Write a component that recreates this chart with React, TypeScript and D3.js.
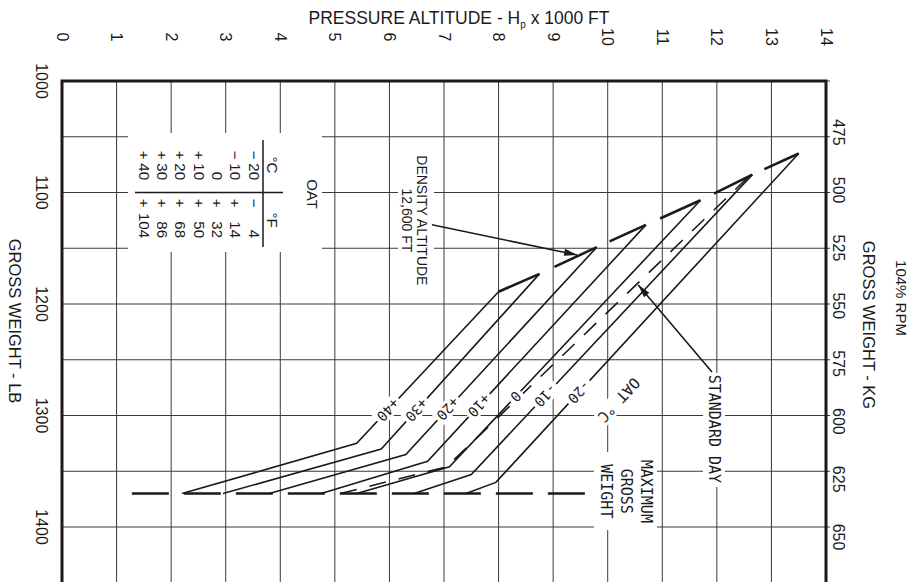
import * as d3 from "d3";

const W = 914;
const H = 582;

// axis ticks
const altTicks = [0, 1, 2, 3, 4, 5, 6, 7, 8, 9, 10, 11, 12, 13, 14];
const lbTicks = [1000, 1100, 1200, 1300, 1400];
const lbGrid = [1000, 1050, 1100, 1150, 1200, 1250, 1300, 1350, 1400, 1450];
const kgTicks = [475, 500, 525, 550, 575, 600, 625, 650];

// OAT lines: leave max gross weight, knee, then up to the 12,600 ft density altitude line
const maxGross = 1370;
const mgwAlt = [1.28, 9.75];
const oatNames = ["+40", "+30", "+20", "+10", "0", "-10", "-20"];
const startAlt = [2.2, 2.95, 3.8, 4.75, 5.4, 6.45, 7.4];
const kneeAlt = [5.4, 5.85, 6.3, 6.7, 7.1, 7.5, 7.95];
const kneeWt = [1325, 1330, 1335, 1341, 1346, 1353, 1360];
const topAlt = [8.0, 8.75, 9.8, 10.7, 11.7, 12.65, 13.5];
const topWt = [1189, 1173, 1149, 1129, 1107, 1084, 1065];
const labelWt = [1295, 1295, 1294, 1291, 1283, 1282, 1279];

// standard day (dashed)
const stdAlt = [5.1, 7.05, 12.6];
const stdWt = [1370, 1346, 1085];

// OAT conversion table
const tableC = [["−", "20"], ["−", "10"], ["", "0"], ["+", "10"], ["+", "20"], ["+", "30"], ["+", "40"]];
const tableF = [["−", "4"], ["+", "14"], ["+", "32"], ["+", "50"], ["+", "68"], ["+", "86"], ["+", "104"]];

const sans = "'Liberation Sans', Arial, sans-serif";
const mono = "'DejaVu Sans Mono', monospace";
const ink = "#1a1a1a";

function arrowHead(x1: number, y1: number, x2: number, y2: number, len = 13, half = 3.5) {
  const a = Math.atan2(y2 - y1, x2 - x1);
  const bx = x2 - len * Math.cos(a), by = y2 - len * Math.sin(a);
  const px = -Math.sin(a) * half, py = Math.cos(a) * half;
  return `${x2},${y2} ${bx + px},${by + py} ${bx - px},${by - py}`;
}

export default function App() {
  const x = d3.scaleLinear().domain([0, 14]).range([62, 826]);
  const y = d3.scaleLinear().domain([1000, 1400]).range([81, 527]);
  const kgToLb = d3.scaleLinear().domain([475, 650]).range([1046, 1409]);
  const x0 = x(0), x1 = x(14), y0 = y(1000);

  const line = d3.line<[number, number]>().x(d => x(d[0])).y(d => y(d[1]));

  const oatLines = oatNames.map((name, i) => {
    const pts: [number, number][] = [[startAlt[i], maxGross], [kneeAlt[i], kneeWt[i]], [topAlt[i], topWt[i]]];
    const t = (kneeWt[i] - labelWt[i]) / (kneeWt[i] - topWt[i]);
    const la = kneeAlt[i] + t * (topAlt[i] - kneeAlt[i]);
    const ang = (Math.atan2(y(topWt[i]) - y(kneeWt[i]), x(topAlt[i]) - x(kneeAlt[i])) * 180) / Math.PI + 180;
    return { name, d: line(pts), lx: x(la), ly: y(labelWt[i]), ang };
  });

  // density altitude dashes, each ending on an OAT line
  const daDashes = topAlt.slice(1).map((a, i) => {
    const f = i === 0 ? 0 : 0.26;
    const pa = topAlt[i] + f * (a - topAlt[i]);
    const pw = topWt[i] + f * (topWt[i + 1] - topWt[i]);
    return { x1: x(pa), y1: y(pw), x2: x(a), y2: y(topWt[i + 1]) };
  });

  const stdPts: [number, number][] = stdAlt.map((a, i) => [a, stdWt[i]]);
  const labelAng = oatLines[6].ang;

  // annotation anchors (data coords)
  const da = { tail: [6.78, 1129], tip: [9.44, 1156] };
  const sd = { tail: [11.91, 1261], tip: [10.56, 1183] };

  const tableRowX = (i: number) => x(3.52) - i * 18.3;

  return (
    <svg width={W} height={H} style={{ position: "absolute", left: 0, top: 0, background: "#fff" }}>
      <rect width={W} height={H} fill="#fff" />
      {/* grid */}
      <g stroke="#3a3a3a" strokeWidth={1}>
        {altTicks.map(t => <line key={"v" + t} x1={x(t)} x2={x(t)} y1={y0} y2={H} />)}
        {lbGrid.map(t => <line key={"h" + t} x1={x0} x2={x1 + 4} y1={y(t)} y2={y(t)} />)}
      </g>
      {/* frame */}
      <path d={`M${x0},${H + 5}V${y0}H${x1}V${H + 5}`} fill="none" stroke={ink} strokeWidth={3} />

      {/* top axis */}
      <text x={459} y={24} textAnchor="middle" fontFamily={sans} fontSize={17.5} fill={ink}>
        PRESSURE ALTITUDE - H<tspan fontSize={10} dy={4}>p</tspan><tspan dy={-4}> x 1000 FT</tspan>
      </text>
      {altTicks.map(t => (
        <text key={"at" + t} transform={`translate(${x(t)},37) rotate(90)`} textAnchor="middle" dominantBaseline="central"
          fontFamily={sans} fontSize={16} fill={ink}>{t}</text>
      ))}
      {/* left axis */}
      {lbTicks.map(t => (
        <text key={"lb" + t} transform={`translate(41,${y(t)}) rotate(90)`} textAnchor="middle" dominantBaseline="central"
          fontFamily={sans} fontSize={16} fill={ink}>{t}</text>
      ))}
      <text transform={`translate(15,321) rotate(90)`} textAnchor="middle" dominantBaseline="central"
        fontFamily={sans} fontSize={16.5} fill={ink}>GROSS WEIGHT - LB</text>
      {/* right axis */}
      {kgTicks.map(t => (
        <text key={"kg" + t} transform={`translate(838,${y(kgToLb(t))}) rotate(90)`} textAnchor="middle" dominantBaseline="central"
          fontFamily={sans} fontSize={16} fill={ink}>{t}</text>
      ))}
      <text transform={`translate(869,325) rotate(90)`} textAnchor="middle" dominantBaseline="central"
        fontFamily={sans} fontSize={16.5} fill={ink}>GROSS WEIGHT - KG</text>
      <text transform={`translate(901,298) rotate(90)`} textAnchor="middle" dominantBaseline="central"
        fontFamily={sans} fontSize={15} fill={ink}>104% RPM</text>

      {/* OAT table */}
      <rect x={128} y={133} width={194} height={119} fill="#fff" />
      <g fontFamily={sans} fontSize={15} fill={ink}>
        <text transform={`translate(312,194) rotate(90)`} textAnchor="middle" dominantBaseline="central">OAT</text>
        <text transform={`translate(272,165) rotate(90)`} textAnchor="middle" dominantBaseline="central">°C</text>
        <text transform={`translate(272,220) rotate(90)`} textAnchor="middle" dominantBaseline="central">°F</text>
        {tableC.map((r, i) => (
          <g key={"tc" + i}>
            <text transform={`translate(${tableRowX(i)},155) rotate(90)`} textAnchor="middle" dominantBaseline="central">{r[0]}</text>
            <text transform={`translate(${tableRowX(i)},180) rotate(90)`} textAnchor="end" dominantBaseline="central">{r[1]}</text>
          </g>
        ))}
        {tableF.map((r, i) => (
          <g key={"tf" + i}>
            <text transform={`translate(${tableRowX(i)},203) rotate(90)`} textAnchor="middle" dominantBaseline="central">{r[0]}</text>
            <text transform={`translate(${tableRowX(i)},238) rotate(90)`} textAnchor="end" dominantBaseline="central">{r[1]}</text>
          </g>
        ))}
      </g>
      <line x1={263} x2={263} y1={140} y2={247} stroke={ink} strokeWidth={1.5} />
      <line x1={135} x2={283} y1={y(1100)} y2={y(1100)} stroke={ink} strokeWidth={1.5} />

      {/* max gross weight */}
      <line x1={x(mgwAlt[0])} x2={x(mgwAlt[1])} y1={y(maxGross)} y2={y(maxGross)} stroke={ink} strokeWidth={2.5}
        strokeDasharray="37 15" />

      {/* OAT lines */}
      {oatLines.map(l => <path key={l.name} d={l.d || ""} fill="none" stroke={ink} strokeWidth={1.6} />)}
      <path d={line(stdPts) || ""} fill="none" stroke={ink} strokeWidth={1.6} strokeDasharray="17 13" />
      {daDashes.map((s, i) => (
        <line key={"da" + i} x1={s.x1} y1={s.y1} x2={s.x2} y2={s.y2} stroke={ink} strokeWidth={2.6} />
      ))}

      {/* line labels */}
      {oatLines.map(l => (
        <g key={"lab" + l.name} transform={`translate(${l.lx},${l.ly}) rotate(${l.ang})`}>
          <rect x={-(l.name.length * 8.4 + 6) / 2} y={-8} width={l.name.length * 8.4 + 6} height={16} fill="#fff" />
          <text textAnchor="middle" dominantBaseline="central" fontFamily={mono} fontSize={14} fill={ink}>{l.name}</text>
        </g>
      ))}
      <g transform={`translate(${x(10.2)},${y(1286)}) rotate(${labelAng})`}>
        <rect x={-28} y={-9} width={56} height={18} fill="#fff" />
        <text textAnchor="middle" dominantBaseline="central" fontFamily={mono} fontSize={15} fill={ink}>OAT °C</text>
      </g>

      {/* density altitude annotation */}
      <rect x={398} y={150} width={36} height={140} fill="#fff" />
      <g fontFamily={sans} fontSize={14} fill={ink}>
        <text transform={`translate(${x(6.6)},${y(1125)}) rotate(90)`} textAnchor="middle" dominantBaseline="central">DENSITY ALTITUDE</text>
        <text transform={`translate(${x(6.32)},${y(1125)}) rotate(90)`} textAnchor="middle" dominantBaseline="central">12,600 FT</text>
      </g>
      <line x1={x(da.tail[0])} y1={y(da.tail[1])} x2={x(da.tip[0])} y2={y(da.tip[1])} stroke={ink} strokeWidth={1.6} />
      <polygon points={arrowHead(x(da.tail[0]), y(da.tail[1]), x(da.tip[0]), y(da.tip[1]))} fill={ink} />

      {/* standard day annotation */}
      <rect x={703} y={373} width={22} height={114} fill="#fff" />
      <text transform={`translate(${x(11.95)},${y(1312)}) rotate(90)`} textAnchor="middle" dominantBaseline="central"
        fontFamily={mono} fontSize={15} fill={ink}>STANDARD DAY</text>
      <line x1={x(sd.tail[0])} y1={y(sd.tail[1])} x2={x(sd.tip[0])} y2={y(sd.tip[1])} stroke={ink} strokeWidth={1.6} />
      <polygon points={arrowHead(x(sd.tail[0]), y(sd.tail[1]), x(sd.tip[0]), y(sd.tip[1]))} fill={ink} />

      {/* maximum gross weight label */}
      <rect x={594} y={452} width={63} height={78} fill="#fff" />
      <g fontFamily={mono} fontSize={15} fill={ink}>
        <text transform={`translate(${x(10.7)},${y(maxGross - 2)}) rotate(90)`} textAnchor="middle" dominantBaseline="central">MAXIMUM</text>
        <text transform={`translate(${x(10.34)},${y(maxGross - 2)}) rotate(90)`} textAnchor="middle" dominantBaseline="central">GROSS</text>
        <text transform={`translate(${x(9.97)},${y(maxGross - 2)}) rotate(90)`} textAnchor="middle" dominantBaseline="central">WEIGHT</text>
      </g>
    </svg>
  );
}
